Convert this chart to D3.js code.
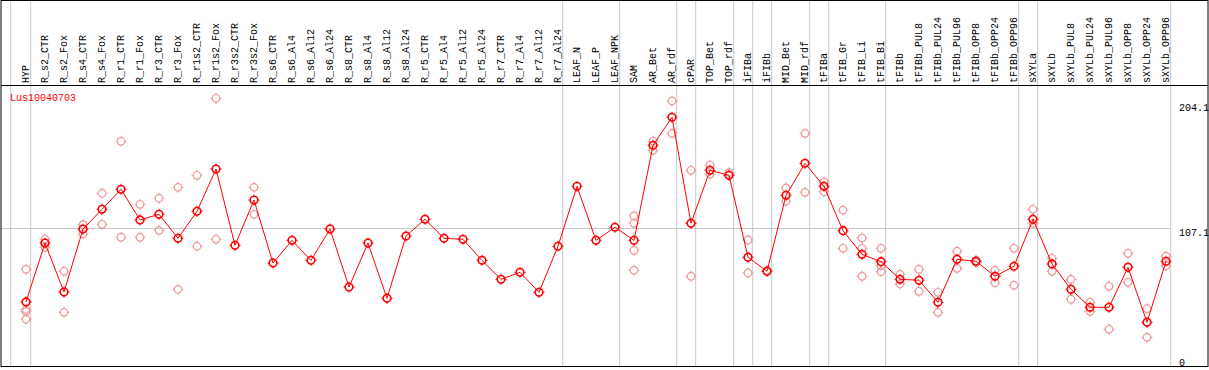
<!DOCTYPE html>
<html>
<head>
<meta charset="utf-8">
<script src="https://cdn.jsdelivr.net/npm/d3@7"></script>
<style>
  body { margin: 0; background: #fff; }
  svg text { font-family: "Liberation Mono", "DejaVu Sans Mono", monospace; font-size: 10px; }
</style>
</head>
<body>
<div id="chart"></div>
<script>
// sample columns, left to right
const samples = ["HYP", "R_s2_CTR", "R_s2_Fox", "R_s4_CTR", "R_s4_Fox", "R_r1_CTR", "R_r1_Fox",
    "R_r3_CTR", "R_r3_Fox", "R_r1s2_CTR", "R_r1s2_Fox", "R_r3s2_CTR", "R_r3s2_Fox",
    "R_s6_CTR", "R_s6_Al4", "R_s6_Al12", "R_s6_Al24", "R_s8_CTR", "R_s8_Al4", "R_s8_Al12", "R_s8_Al24",
    "R_r5_CTR", "R_r5_Al4", "R_r5_Al12", "R_r5_Al24", "R_r7_CTR", "R_r7_Al4", "R_r7_Al12", "R_r7_Al24",
    "LEAF_N", "LEAF_P", "LEAF_NPK", "SAM", "AR_Bet", "AR_rdf", "cPAR", "TOP_Bet", "TOP_rdf",
    "iFIBa", "iFIBb", "MID_Bet", "MID_rdf", "tFIBa", "tFIB_Gr", "tFIB_Li", "tFIB_Bi", "tFIBb",
    "tFIBb_PUL8", "tFIBb_PUL24", "tFIBb_PUL96", "tFIBb_OPP8", "tFIBb_OPP24", "tFIBb_OPP96",
    "sXYLa", "sXYLb", "sXYLb_PUL8", "sXYLb_PUL24", "sXYLb_PUL96", "sXYLb_OPP8", "sXYLb_OPP24", "sXYLb_OPP96"];

// mean expression per sample
const means = [49.3, 95.2, 57.0, 106.1, 121.5, 137.1, 113.2, 117.6, 98.9, 119.9, 152.9, 93.4, 128.7,
    79.6, 97.3, 81.7, 106.1, 60.9, 95.2, 52.1, 100.7,
    113.7, 98.9, 98.1, 81.7, 66.9, 72.4, 56.8, 92.7,
    139.4, 97.3, 107.5, 97.3, 171.4, 193.2, 110.6, 151.9, 148.0,
    84.1, 73.2, 132.4, 157.3, 139.4, 104.8, 86.4, 80.7, 66.9,
    66.2, 49.0, 82.5, 81.0, 69.3, 77.1,
    113.7, 78.9, 59.1, 45.1, 45.1, 76.3, 33.4, 81.0];

// individual replicates per sample (empty = single replicate)
const replicates = [
    [74.7, 43.4, 41.8, 35.8], [98.3, 91.9], [73.2, 41.2], [109.5, 102.2], [134.0, 109.8],
    [174.5, 99.7], [125.4, 99.7], [130.1, 105.1], [138.6, 59.1], [148.0, 92.7], [208.0, 98.1],
    [], [138.6, 117.6],
    [], [], [], [], [], [], [], [],
    [], [], [], [], [], [], [], [],
    [], [], [], [116.3, 110.6, 89.5, 74.0], [174.7, 167.5], [205.9, 180.7], [151.9, 69.3],
    [155.8, 148.8], [150.0, 148.0],
    [97.6, 71.9], [73.2, 73.8], [138.1, 127.7], [180.7, 134.7], [142.8, 135.2], [120.9, 91.1],
    [99.1, 91.1, 69.3], [91.1, 77.5, 72.9], [70.8, 63.3],
    [74.7, 57.6], [56.8, 41.2], [88.8, 75.5], [81.7, 80.2], [74.0, 64.3], [91.1, 62.3],
    [121.5, 110.6], [83.3, 73.2], [66.9, 51.4], [49.0, 42.0], [61.5, 28.0], [87.2, 64.6],
    [44.0, 21.7], [84.9, 77.5]];

// last sample of each tissue group
const groupEnds = ["HYP", "R_r7_Al24", "LEAF_NPK", "AR_rdf", "cPAR", "TOP_rdf", "iFIBa", "iFIBb",
    "MID_rdf", "tFIBa", "tFIB_Bi", "tFIBb_OPP96", "sXYLa", "sXYLb_OPP96"];

const yTicks = [0, 107.1, 204.1];
const geneName = "Lus10040703";

const width = 1209;
const height = 370;
const headerBottom = 85;
const plotBottom = 366.5;

const x = d3.scalePoint()
    .domain(samples)
    .range([26, 1166]);

const y = d3.scaleLinear()
    .domain([0, 204.1])
    .range([365.2, 103.3]);

const svg = d3.select("#chart").append("svg")
    .attr("width", width)
    .attr("height", height);

const grey = "#c8c8c8";

// group separators
svg.append("line")
    .attr("x1", x("HYP") - 15.3).attr("x2", x("HYP") - 15.3)
    .attr("y1", 0).attr("y2", plotBottom)
    .attr("stroke", grey);

svg.selectAll("line.sep")
    .data(groupEnds)
    .enter().append("line")
    .attr("class", "sep")
    .attr("x1", d => x(d) + 4.7)
    .attr("x2", d => x(d) + 4.7)
    .attr("y1", 0)
    .attr("y2", plotBottom)
    .attr("stroke", grey);

// reference line at middle tick
svg.append("line")
    .attr("x1", 1).attr("x2", x("sXYLb_OPP96") + 4.7)
    .attr("y1", Math.round(y(107.1)) + 0.5).attr("y2", Math.round(y(107.1)) + 0.5)
    .attr("stroke", grey);

// frame
svg.append("rect")
    .attr("x", 1).attr("y", 0.5)
    .attr("width", width - 2).attr("height", plotBottom - 0.5)
    .attr("fill", "none")
    .attr("stroke", "#000");

svg.append("line")
    .attr("x1", 1).attr("x2", width - 1)
    .attr("y1", headerBottom + 0.5).attr("y2", headerBottom + 0.5)
    .attr("stroke", "#000");

// column labels
svg.selectAll("text.sample")
    .data(samples)
    .enter().append("text")
    .attr("class", "sample")
    .attr("transform", d => "translate(" + x(d) + "," + (headerBottom - 2) + ") rotate(-90)")
    .attr("dy", "0.3em")
    .attr("fill", "#000")
    .text(d => d);

// y value labels
svg.selectAll("text.ytick")
    .data(yTicks)
    .enter().append("text")
    .attr("class", "ytick")
    .attr("x", 1179)
    .attr("y", d => d === 0 ? y(d) + 0.5 : y(d) + 8)
    .attr("fill", "#000")
    .text(d => d);

svg.append("text")
    .attr("x", 10)
    .attr("y", 101)
    .attr("fill", "#ff0000")
    .text(geneName);

function marker(sel, color, sw) {
    sel.append("circle")
        .attr("r", 3.8)
        .attr("fill", "none")
        .attr("stroke", color)
        .attr("stroke-width", sw);
    sel.append("path")
        .attr("d", "M0,-5.5V-3.5M0,3.5V5.5M-5.5,0H-3.5M3.5,0H5.5")
        .attr("stroke", color)
        .attr("stroke-width", 1);
}

// replicate points
const repPoints = [];
replicates.forEach((reps, i) => reps.forEach(v => repPoints.push({s: samples[i], v: v})));

svg.selectAll("g.rep")
    .data(repPoints)
    .enter().append("g")
    .attr("class", "rep")
    .attr("transform", d => "translate(" + x(d.s) + "," + y(d.v) + ")")
    .call(marker, "#ee9a9a", 1.2);

// mean line
const line = d3.line()
    .x((d, i) => x(samples[i]))
    .y(d => y(d));

svg.append("path")
    .datum(means)
    .attr("d", line)
    .attr("fill", "none")
    .attr("stroke", "#ff0000")
    .attr("stroke-width", 1);

svg.selectAll("g.mean")
    .data(means)
    .enter().append("g")
    .attr("class", "mean")
    .attr("transform", (d, i) => "translate(" + x(samples[i]) + "," + y(d) + ")")
    .call(marker, "#ff0000", 1.6);
</script>
</body>
</html>
